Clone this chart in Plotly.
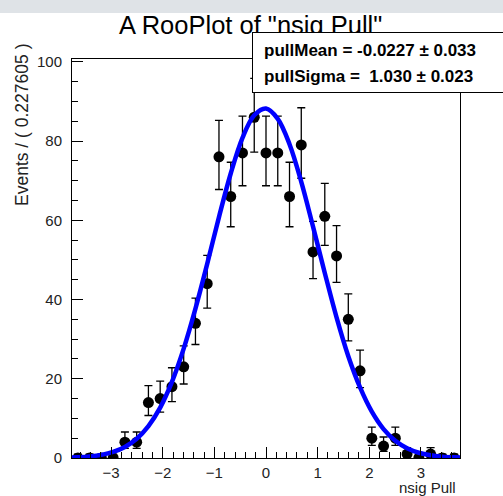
import math
import plotly.graph_objects as go

# ---------------- data ----------------
bin_width = 0.227605
x_min, x_max = -3.7555, 3.7555
bin_index = list(range(-16, 17))
counts = [0, 0, 0, 0, 4, 4, 14, 15, 18, 23, 34, 44, 76, 66, 77, 86, 77,
          77, 66, 79, 52, 61, 51, 35, 22, 5, 3, 5, 1, 0, 1, 0, 0]
# fitted pdf (blue curve) read at the frame edges and at every bin centre
curve_edge_left, curve_edge_right = 0.12, 0.10
curve_vals = [0.18, 0.39, 0.79, 1.52, 2.77, 4.84, 8.05, 12.7, 19.2, 27.6, 37.7,
              49.0, 60.8, 71.8, 80.8, 86.5, 88.2, 85.6, 79.2, 69.7, 58.4, 46.7,
              35.5, 25.7, 17.8, 11.7, 7.30, 4.35, 2.47, 1.33, 0.69, 0.34, 0.16]
x_tick_vals = [-3, -2, -1, 0, 1, 2, 3]
x_tick_text = ["\u22123", "\u22122", "\u22121", "0", "1", "2", "3"]
y_tick_vals = [0, 20, 40, 60, 80, 100]
title_text = 'A RooPlot of "nsig Pull"'
x_title = "nsig Pull"
y_title = "Events / ( 0.227605 )"
stat_lines = ["pullMean = -0.0227 \u00b1 0.033",
              "pullSigma = \u00a01.030 \u00b1 0.023"]

centers = [k * bin_width for k in bin_index]
err_hi = [math.sqrt(n + 0.25) + 0.5 for n in counts]
err_lo = [math.sqrt(n + 0.25) - 0.5 for n in counts]
curve_x = [x_min] + centers + [x_max]
curve_y = [curve_edge_left] + curve_vals + [curve_edge_right]

# ---------------- layout geometry ----------------
W, H = 503, 496
L, R, T, B = 72, 460, 59, 458   # frame in pixels
STRIP = "#dfe3e7"


def px_x(p):
    return (p - L) / (R - L)


def px_y(p):
    return (B - p) / (B - T)


FONT = "Liberation Sans, Arial, Helvetica, sans-serif"
fig = go.Figure()

fig.add_trace(go.Scatter(
    x=centers, y=counts, mode="markers",
    marker=dict(symbol="circle", size=11, color="black"),
    error_y=dict(type="data", symmetric=False, array=err_hi, arrayminus=err_lo,
                 color="black", thickness=1.3, width=4),
    showlegend=False, hoverinfo="x+y"))

fig.add_trace(go.Scatter(
    x=curve_x, y=curve_y, mode="lines",
    line=dict(color="#0000ff", width=4.5, shape="spline", smoothing=1.0),
    showlegend=False, hoverinfo="skip"))

axis_common = dict(showline=True, linecolor="black", linewidth=1, mirror=True,
                   showgrid=False, zeroline=False, ticks="inside",
                   tickcolor="black", tickwidth=1,
                   tickfont=dict(family=FONT, size=15, color="#222"))

fig.update_xaxes(range=[x_min, x_max], tickmode="array", tickvals=x_tick_vals,
                 ticktext=x_tick_text, ticklen=11, ticklabelstandoff=1,
                 minor=dict(dtick=0.2, tick0=0, ticks="inside", ticklen=6,
                            tickcolor="black", showgrid=False),
                 **axis_common)
fig.update_yaxes(range=[0, 100.7], tickmode="array", tickvals=y_tick_vals,
                 ticklen=11, ticklabelstandoff=6,
                 minor=dict(dtick=5, tick0=0, ticks="inside", ticklen=6,
                            tickcolor="black", showgrid=False),
                 **axis_common)

annotations = [
    dict(text=title_text, x=px_x(250), y=px_y(25), xanchor="center",
         yanchor="middle", font=dict(family=FONT, size=25.5, color="black")),
    dict(text=" ", x=px_x(252), y=px_y(32), xanchor="left", yanchor="top",
         width=262, height=59, bgcolor="white", bordercolor="black",
         borderwidth=1, borderpad=0, font=dict(size=10)),
    dict(text="<b>" + stat_lines[0] + "</b>", x=px_x(262), y=px_y(50),
         xanchor="left", yanchor="middle",
         font=dict(family=FONT, size=17, color="black")),
    dict(text="<b>" + stat_lines[1] + "</b>", x=px_x(262), y=px_y(76),
         xanchor="left", yanchor="middle",
         font=dict(family=FONT, size=17, color="black")),
    dict(text=y_title, x=px_x(22), y=px_y(42), xanchor="center", yanchor="top",
         textangle=-90, font=dict(family=FONT, size=17.5, color="#222")),
    dict(text=x_title, x=px_x(458), y=px_y(487), xanchor="right",
         yanchor="middle", font=dict(family=FONT, size=15, color="#222")),
]
for a in annotations:
    a.update(xref="paper", yref="paper", showarrow=False)

fig.update_layout(
    width=W, height=H,
    margin=dict(l=L, r=W - R, t=T, b=H - B, pad=0),
    paper_bgcolor="white", plot_bgcolor="white",
    annotations=annotations,
    shapes=[dict(type="rect", xref="paper", yref="paper",
                 x0=px_x(0), x1=px_x(W), y0=px_y(13), y1=px_y(0),
                 fillcolor=STRIP, line=dict(width=0), layer="below")],
    font=dict(family=FONT),
)

fig.write_html("out.html", config={"displayModeBar": False},
               post_script="document.body.style.margin='0px';"
                           "document.body.style.overflow='hidden';")
